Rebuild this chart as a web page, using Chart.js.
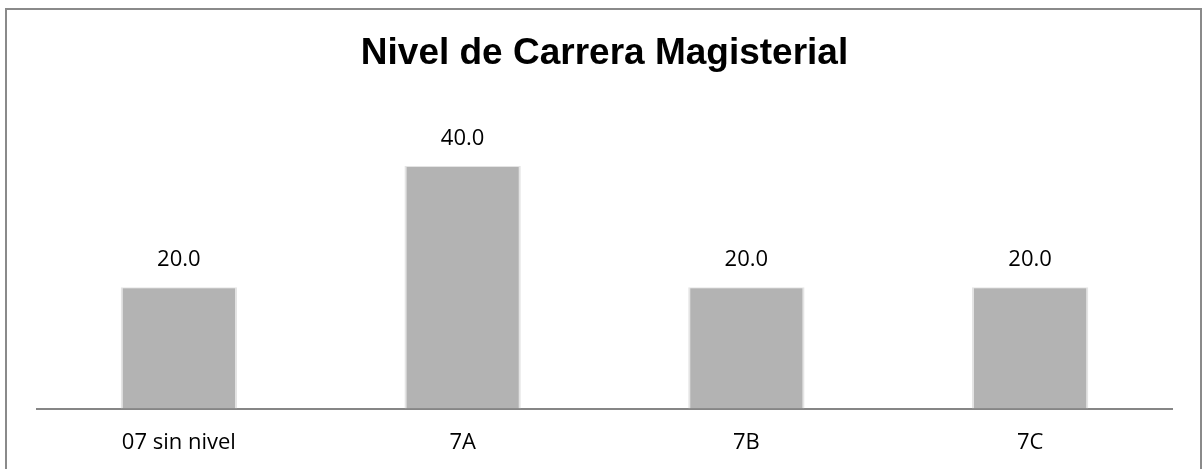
<!DOCTYPE html>
<html>
<head>
<meta charset="utf-8">
<script src="https://cdn.jsdelivr.net/npm/chart.js@4.4.0/dist/chart.umd.min.js"></script>
<style>
  html, body { margin: 0; padding: 0; background: #fff; }
  body { width: 1204px; height: 469px; position: relative; overflow: hidden; }
  #frame {
    position: absolute; left: 5px; top: 8px; width: 1193px; height: 470px;
    border: 2px solid #8a8a8a; box-sizing: content-box;
  }
  #wrap { position: absolute; left: 0; top: 0; width: 1204px; height: 469px; }
</style>
</head>
<body>
<div id="frame"></div>
<div id="wrap"><canvas id="chart"></canvas></div>
<script>
// datos del gráfico
const categories = ['07 sin nivel', '7A', '7B', '7C'];
const values = [20.0, 40.0, 20.0, 20.0];
const chartTitle = 'Nivel de Carrera Magisterial';

// etiquetas de valor encima de cada barra
const valueLabels = {
  id: 'valueLabels',
  afterDatasetsDraw(chart) {
    const ctx = chart.ctx;
    const meta = chart.getDatasetMeta(0);
    ctx.save();
    ctx.font = '22px "Open Sans"';
    ctx.fillStyle = '#000000';
    ctx.textAlign = 'center';
    ctx.textBaseline = 'alphabetic';
    meta.data.forEach((bar, i) => {
      ctx.fillText(values[i].toFixed(1), bar.x, bar.y - 21);
    });
    ctx.restore();
  }
};

new Chart(document.getElementById('chart'), {
  type: 'bar',
  data: {
    labels: categories,
    datasets: [{
      data: values,
      backgroundColor: '#b3b3b3',
      borderColor: '#e4e4e4',
      borderWidth: { left: 2, right: 2, top: 1, bottom: 0 },
      borderSkipped: 'bottom',
      barPercentage: 0.41,
      categoryPercentage: 1.0
    }]
  },
  options: {
    responsive: true,
    maintainAspectRatio: false,
    animation: false,
    layout: {
      padding: { left: 37, right: 32, top: 8, bottom: 0 }
    },
    plugins: {
      legend: { display: false },
      tooltip: { enabled: false },
      title: {
        display: true,
        text: chartTitle,
        color: '#000000',
        font: { family: '"Liberation Sans", Arial, sans-serif', size: 37, weight: 'bold', lineHeight: 1.2 },
        padding: { top: 24, bottom: 29 }
      }
    },
    scales: {
      x: {
        grid: { display: false },
        border: { display: true, color: '#868686', width: 2 },
        ticks: {
          color: '#000000',
          font: { family: '"Open Sans"', size: 22 },
          padding: 13
        }
      },
      y: {
        display: false,
        min: 0,
        max: 50
      }
    }
  },
  plugins: [valueLabels]
});
</script>
</body>
</html>
